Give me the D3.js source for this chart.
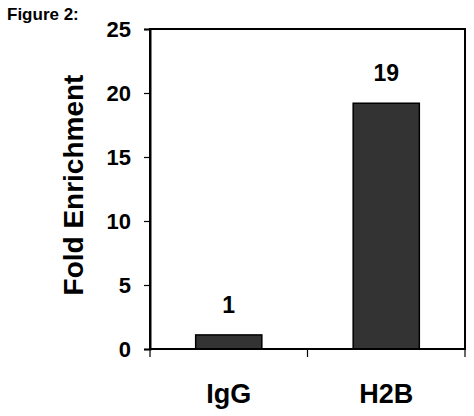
<!DOCTYPE html>
<html>
<head>
<meta charset="utf-8">
<script src="https://cdn.jsdelivr.net/npm/d3@7"></script>
<style>
  body { margin: 0; background: #fff; }
  text { font-family: "Liberation Sans", Arial, sans-serif; font-weight: bold; fill: #000; }
</style>
</head>
<body>
<div id="chart"></div>
<script>
var categories = ["IgG", "H2B"];
var values = [1.1, 19.2];
var valueLabels = ["1", "19"];
var yTicks = [0, 5, 10, 15, 20, 25];

var width = 474, height = 416;
var plotLeft = 150, plotRight = 465, plotTop = 29, plotBottom = 349;

var svg = d3.select("#chart").append("svg").attr("width", width).attr("height", height);

var x = d3.scaleBand().domain(categories).range([plotLeft, plotRight]).paddingInner(0.58).paddingOuter(0.29);
var y = d3.scaleLinear().domain([0, 25]).range([plotBottom, plotTop]);

// title
svg.append("text").attr("x", 7).attr("y", 20).style("font-size", "17px").text("Figure 2:");

// frame
svg.append("rect").attr("x", plotLeft).attr("y", plotTop).attr("width", plotRight - plotLeft).attr("height", plotBottom - plotTop)
  .attr("fill", "none").attr("stroke", "#000").attr("stroke-width", 2);

// bars
svg.selectAll(".bar").data(values).enter().append("rect")
  .attr("class", "bar")
  .attr("x", function(d, i) { return x(categories[i]); })
  .attr("y", function(d) { return y(d); })
  .attr("width", x.bandwidth())
  .attr("height", function(d) { return y(0) - y(d); })
  .attr("fill", "#333333").attr("stroke", "#000").attr("stroke-width", 1.5);

// value labels
svg.selectAll(".vlab").data(values).enter().append("text")
  .attr("class", "vlab")
  .attr("x", function(d, i) { return x(categories[i]) + x.bandwidth() / 2; })
  .attr("y", function(d) { return y(d) - 22; })
  .attr("text-anchor", "middle").style("font-size", "23px")
  .text(function(d, i) { return valueLabels[i]; });

// y axis
var yAxis = svg.append("g").attr("transform", "translate(" + plotLeft + ",0)")
  .call(d3.axisLeft(y).tickValues(yTicks).tickSize(6).tickPadding(13));
yAxis.select(".domain").attr("stroke-width", 2);
yAxis.selectAll(".tick line").attr("stroke-width", 1.2);
yAxis.selectAll("text").style("font-size", "22px").attr("font-family", null);

// x axis line + ticks at band edges
svg.append("line").attr("x1", plotLeft).attr("x2", plotRight).attr("y1", plotBottom).attr("y2", plotBottom)
  .attr("stroke", "#000").attr("stroke-width", 2);
var edges = [plotLeft].concat(categories.map(function(c) { return x(c) + x.bandwidth() + x.step() * x.paddingInner() / 2; }));
edges[edges.length - 1] = plotRight;
svg.selectAll(".xtick").data(edges).enter().append("line")
  .attr("x1", function(d) { return d; }).attr("x2", function(d) { return d; })
  .attr("y1", plotBottom).attr("y2", plotBottom + 8)
  .attr("stroke", "#000").attr("stroke-width", 1.2);

svg.selectAll(".xlab").data(categories).enter().append("text")
  .attr("x", function(d) { return x(d) + x.bandwidth() / 2; })
  .attr("y", 403).attr("text-anchor", "middle").style("font-size", "27px")
  .text(function(d) { return d; });

// y title
svg.append("text").attr("transform", "translate(83,185) rotate(-90)")
  .attr("text-anchor", "middle").style("font-size", "28px").text("Fold Enrichment");
</script>
</body>
</html>
